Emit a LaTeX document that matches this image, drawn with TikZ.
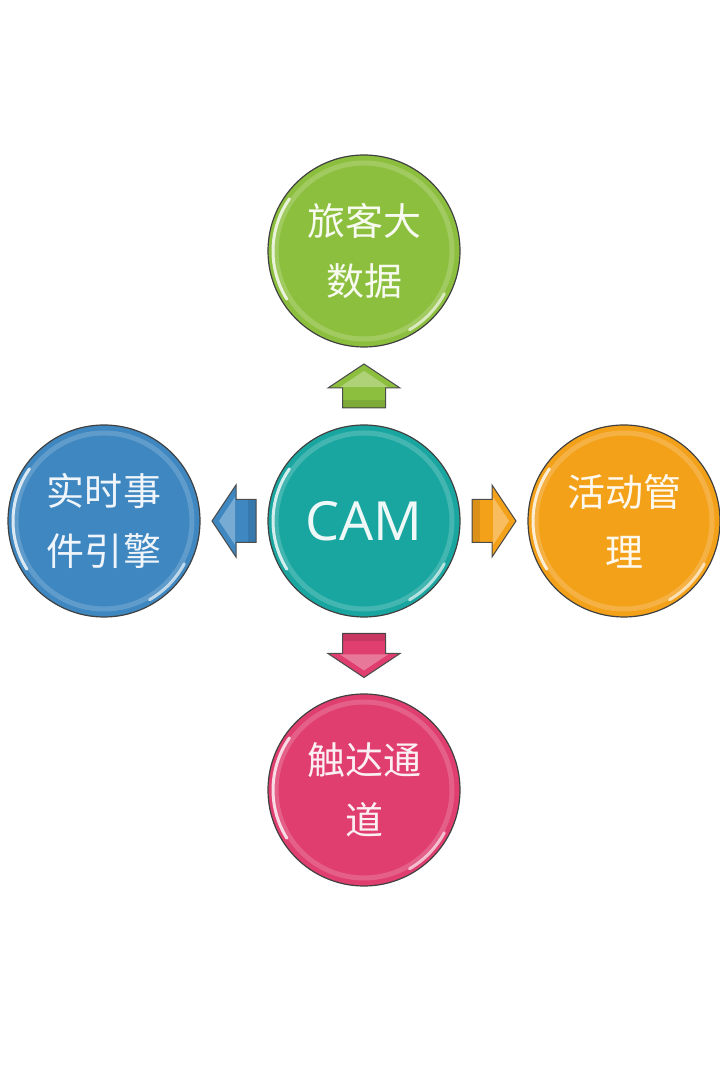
\documentclass[tikz,border=0pt]{standalone}
\usepackage{fontspec}
\setmainfont{Open Sans}
\newfontfamily\cjkfont{Noto Sans CJK SC}
\usetikzlibrary{calc}

\definecolor{camteal}{RGB}{26,166,160}
\definecolor{datagreen}{RGB}{141,191,62}
\definecolor{eventblue}{RGB}{62,135,192}
\definecolor{campaignorange}{RGB}{244,161,26}
\definecolor{touchpink}{RGB}{223,62,110}

\begin{document}
\begin{tikzpicture}[x=1bp,y=1bp,
    ball/.style={circle,minimum size=192bp,inner sep=0pt,draw=black!75,line width=1.2bp,
        fill=#1,text=white!92!#1,align=center,
        path picture={
            \draw[white,opacity=.18,line width=5bp] (path picture bounding box.center) circle (88bp);
            \draw[white,opacity=.8,line width=3bp,line cap=round] ($(path picture bounding box.center)+(145:91bp)$) arc (145:212:91bp);
            \draw[white,opacity=.65,line width=3bp,line cap=round] ($(path picture bounding box.center)+(-60:91bp)$) arc (-60:-28:91bp);
        }},
    zh/.style={font=\cjkfont\fontsize{38bp}{60bp}\selectfont},
    blockarrow/.style={draw=black!70,line width=1bp,fill=#1}
]
    \useasboundingbox (0,0) rectangle (720,1080);

    % the five balls
    \node[ball=camteal,font=\fontsize{54bp}{60bp}\selectfont] (cam) at (364,559) {CAM};
    \node[ball=datagreen,zh] (data) at (364,829) {旅客大\\数据};
    \node[ball=eventblue,zh] (event) at (104,559) {实时事\\件引擎};
    \node[ball=campaignorange,zh] (campaign) at (624,559) {活动管\\理};
    \node[ball=touchpink,zh] (touch) at (364,290) {触达通\\道};

    % arrows half way between the balls
    \coordinate (upmid) at ($(cam.north)!.5!(data.south)$);
    \coordinate (leftmid) at ($(cam.west)!.5!(event.east)$);
    \coordinate (rightmid) at ($(cam.east)!.5!(campaign.west)$);
    \coordinate (downmid) at ($(cam.south)!.5!(touch.north)$);
    \foreach \c/\a/\col in {upmid/0/datagreen,leftmid/90/eventblue,rightmid/-90/campaignorange,downmid/180/touchpink}{
        \draw[blockarrow=\col,shift={(\c)},rotate=\a] (-21.5,-22) -- (-21.5,-2) -- (-36,-2) -- (0,22) -- (36,-2) -- (21.5,-2) -- (21.5,-22) -- cycle;
        \fill[white,opacity=.3,shift={(\c)},rotate=\a] (-24,-1) -- (0,15) -- (24,-1) -- cycle;
        \fill[black,opacity=.1,shift={(\c)},rotate=\a] (-21,-22) rectangle (21,-14);
    }
\end{tikzpicture}
\end{document}
